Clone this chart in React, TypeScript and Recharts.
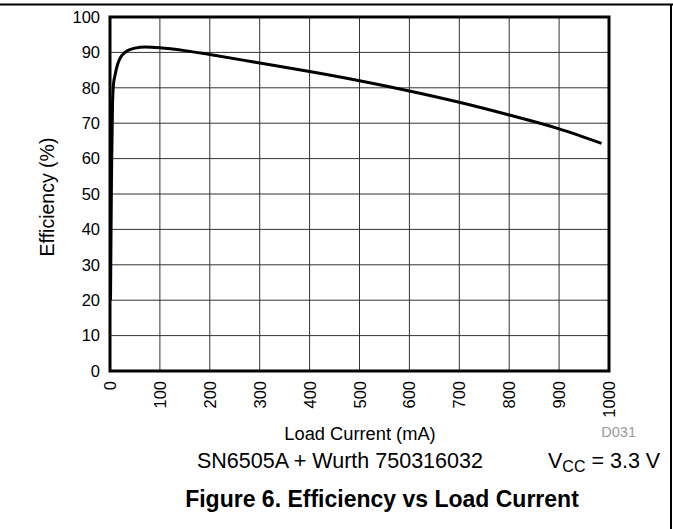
import React from "react";
import { LineChart, Line, XAxis, YAxis, CartesianGrid, ReferenceArea } from "recharts";

const loadCurrent = [1, 3, 5, 7, 10, 15, 20, 30, 40, 50, 70, 100, 150, 200, 300, 400, 500, 600, 700, 800, 900, 985];
const efficiency = [20, 55, 75, 81, 83.5, 86.5, 88.3, 90, 90.8, 91.2, 91.5, 91.3, 90.5, 89.4, 87, 84.6, 82, 79.1, 75.9, 72.3, 68.4, 64.3];
const xTicks = [0, 100, 200, 300, 400, 500, 600, 700, 800, 900, 1000];
const yTicks = [0, 10, 20, 30, 40, 50, 60, 70, 80, 90, 100];

const data = loadCurrent.map((x, i) => ({ x, eff: efficiency[i] }));

const FONT = "'Liberation Sans', Arial, sans-serif";
const W = 673;
const H = 529;

function XTick({ x, y, payload }: { x?: number; y?: number; payload?: { value: number } }) {
  const ty = (y ?? 0) + 2;
  return (
    <text
      x={x}
      y={ty}
      transform={`rotate(-90, ${x}, ${ty})`}
      textAnchor="end"
      dominantBaseline="central"
      fill="#000"
      fontSize={16.5}
      fontFamily={FONT}
    >
      {payload?.value}
    </text>
  );
}

export default function App() {
  return (
    <div style={{ position: "absolute", left: 0, top: 0, width: W, height: H, background: "#fff" }}>
      <LineChart
        width={W}
        height={H}
        data={data}
        margin={{ top: 17, right: 64, bottom: 108, left: 0 }}
      >
        <CartesianGrid stroke="#333" strokeWidth={1} />
        <XAxis
          dataKey="x"
          type="number"
          domain={[0, 1000]}
          ticks={xTicks}
          interval={0}
          height={50}
          axisLine={false}
          tickLine={false}
          tick={<XTick />}
        />
        <YAxis
          type="number"
          domain={[0, 100]}
          ticks={yTicks}
          interval={0}
          width={110}
          axisLine={false}
          tickLine={false}
          tickMargin={4}
          tick={{ fill: "#000", fontSize: 16.5, fontFamily: FONT }}
        />
        <Line
          type="monotone"
          dataKey="eff"
          stroke="#000"
          strokeWidth={3}
          dot={false}
          isAnimationActive={false}
        />
        <ReferenceArea x1={0} x2={1000} y1={0} y2={100} fill="none" stroke="#000" strokeWidth={3} ifOverflow="visible" />
      </LineChart>
      <svg width={W} height={H} style={{ position: "absolute", left: 0, top: 0, pointerEvents: "none" }}>
        <line x1={0} y1={4.5} x2={W} y2={4.5} stroke="#000" strokeWidth={2} />
        <line x1={671} y1={4} x2={671} y2={H} stroke="#000" strokeWidth={2} />
        <text x={47} y={197} transform="rotate(-90, 47, 197)" textAnchor="middle" dominantBaseline="central" fontSize={19.5} fontFamily={FONT} fill="#000">
          Efficiency (%)
        </text>
        <text x={360} y={440} textAnchor="middle" fontSize={18.3} fontFamily={FONT} fill="#000">
          Load Current (mA)
        </text>
        <text x={636} y={437} textAnchor="end" fontSize={14.5} fontFamily={FONT} fill="#999">
          D031
        </text>
        <text x={197} y={468} fontSize={21.5} fontFamily={FONT} fill="#000">
          SN6505A + Wurth 750316032
        </text>
        <text x={548} y={468} fontSize={21.5} fontFamily={FONT} fill="#000">
          V<tspan fontSize={16} dy={4}>CC</tspan><tspan dy={-4}> = 3.3 V</tspan>
        </text>
        <text x={382} y={507} textAnchor="middle" fontSize={23} fontWeight="bold" fontFamily={FONT} fill="#000">
          Figure 6. Efficiency vs Load Current
        </text>
      </svg>
    </div>
  );
}
